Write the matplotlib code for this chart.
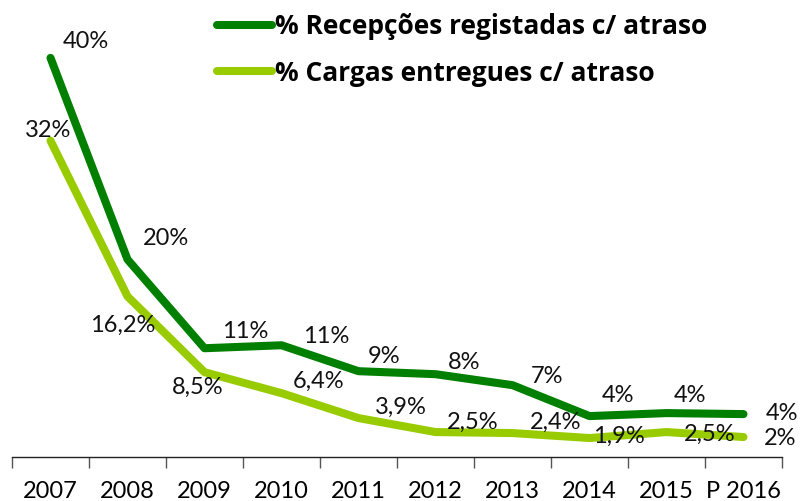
import matplotlib
matplotlib.use("Agg")
import matplotlib.pyplot as plt

years = ["2007", "2008", "2009", "2010", "2011", "2012", "2013", "2014", "2015", "P 2016"]
recepcoes = [40.0, 19.8, 10.9, 11.2, 8.6, 8.3, 7.2, 4.1, 4.4, 4.3]
cargas = [31.7, 16.1, 8.5, 6.4, 3.9, 2.5, 2.4, 1.9, 2.5, 2.0]
recepcoes_labels = ["40%", "20%", "11%", "11%", "9%", "8%", "7%", "4%", "4%", "4%"]
cargas_labels = ["32%", "16,2%", "8,5%", "6,4%", "3,9%", "2,5%", "2,4%", "1,9%", "2,5%", "2%"]
series_names = ["% Recepções registadas c/ atraso", "% Cargas entregues c/ atraso"]

dark = "#007F00"
light = "#99CC00"

# label offsets in pixels (dx, dy) from the data point
off_dark = [(35, 16), (38, 21), (41, 17), (45, 9), (26, 15), (29, 12), (34, 9), (28, 21), (23, 18), (38, 1)]
off_light = [(-2, 10), (-5, -29), (-7, -15), (37, 12), (42, 11), (37, 10), (43, 11), (29, 2), (43, -2), (37, -1)]

plt.rcParams['font.family'] = ['Lato', 'DejaVu Sans']

fig = plt.figure(figsize=(8, 5.01), dpi=100)
ax = fig.add_axes([12/800, (501-457)/501, 770/800, (457-8)/501])
x = list(range(len(years)))
l1, = ax.plot(x, recepcoes, color=dark, lw=5.8, solid_capstyle='round', solid_joinstyle='round', label=series_names[0])
l2, = ax.plot(x, cargas, color=light, lw=5.8, solid_capstyle='round', solid_joinstyle='round', label=series_names[1])

for i in x:
    ax.annotate(recepcoes_labels[i], (x[i], recepcoes[i]), xytext=off_dark[i], textcoords='offset pixels',
                ha='center', va='center', fontsize=17, color='#111111')
    ax.annotate(cargas_labels[i], (x[i], cargas[i]), xytext=off_light[i], textcoords='offset pixels',
                ha='center', va='center', fontsize=17, color='#111111')

ax.set_xlim(-0.5, 9.5)
ax.set_ylim(0, 45)
ax.set_xticks([i + 0.5 for i in range(-1, 10)], minor=False)
ax.set_xticklabels([])
ax.set_xticks(x, minor=True)
ax.set_xticklabels(years, minor=True, fontsize=17)
ax.tick_params(axis='x', which='major', length=8, width=1, color='#555555', direction='out')
ax.tick_params(axis='x', which='minor', length=0, pad=17)
ax.set_yticks([])
for s in ['top', 'right', 'left']:
    ax.spines[s].set_visible(False)
ax.spines['bottom'].set_color('#222222')
ax.spines['bottom'].set_linewidth(1)

leg = fig.legend(handles=[l1, l2], loc='upper left', bbox_to_anchor=(193/800, 1 + 11/501),
                 frameon=False, prop={'family': ['Open Sans', 'DejaVu Sans'], 'weight': 'bold', 'size': 19},
                 handlelength=2.1, handletextpad=0.1, labelspacing=0.75)

fig.savefig("out.png", dpi=100)
